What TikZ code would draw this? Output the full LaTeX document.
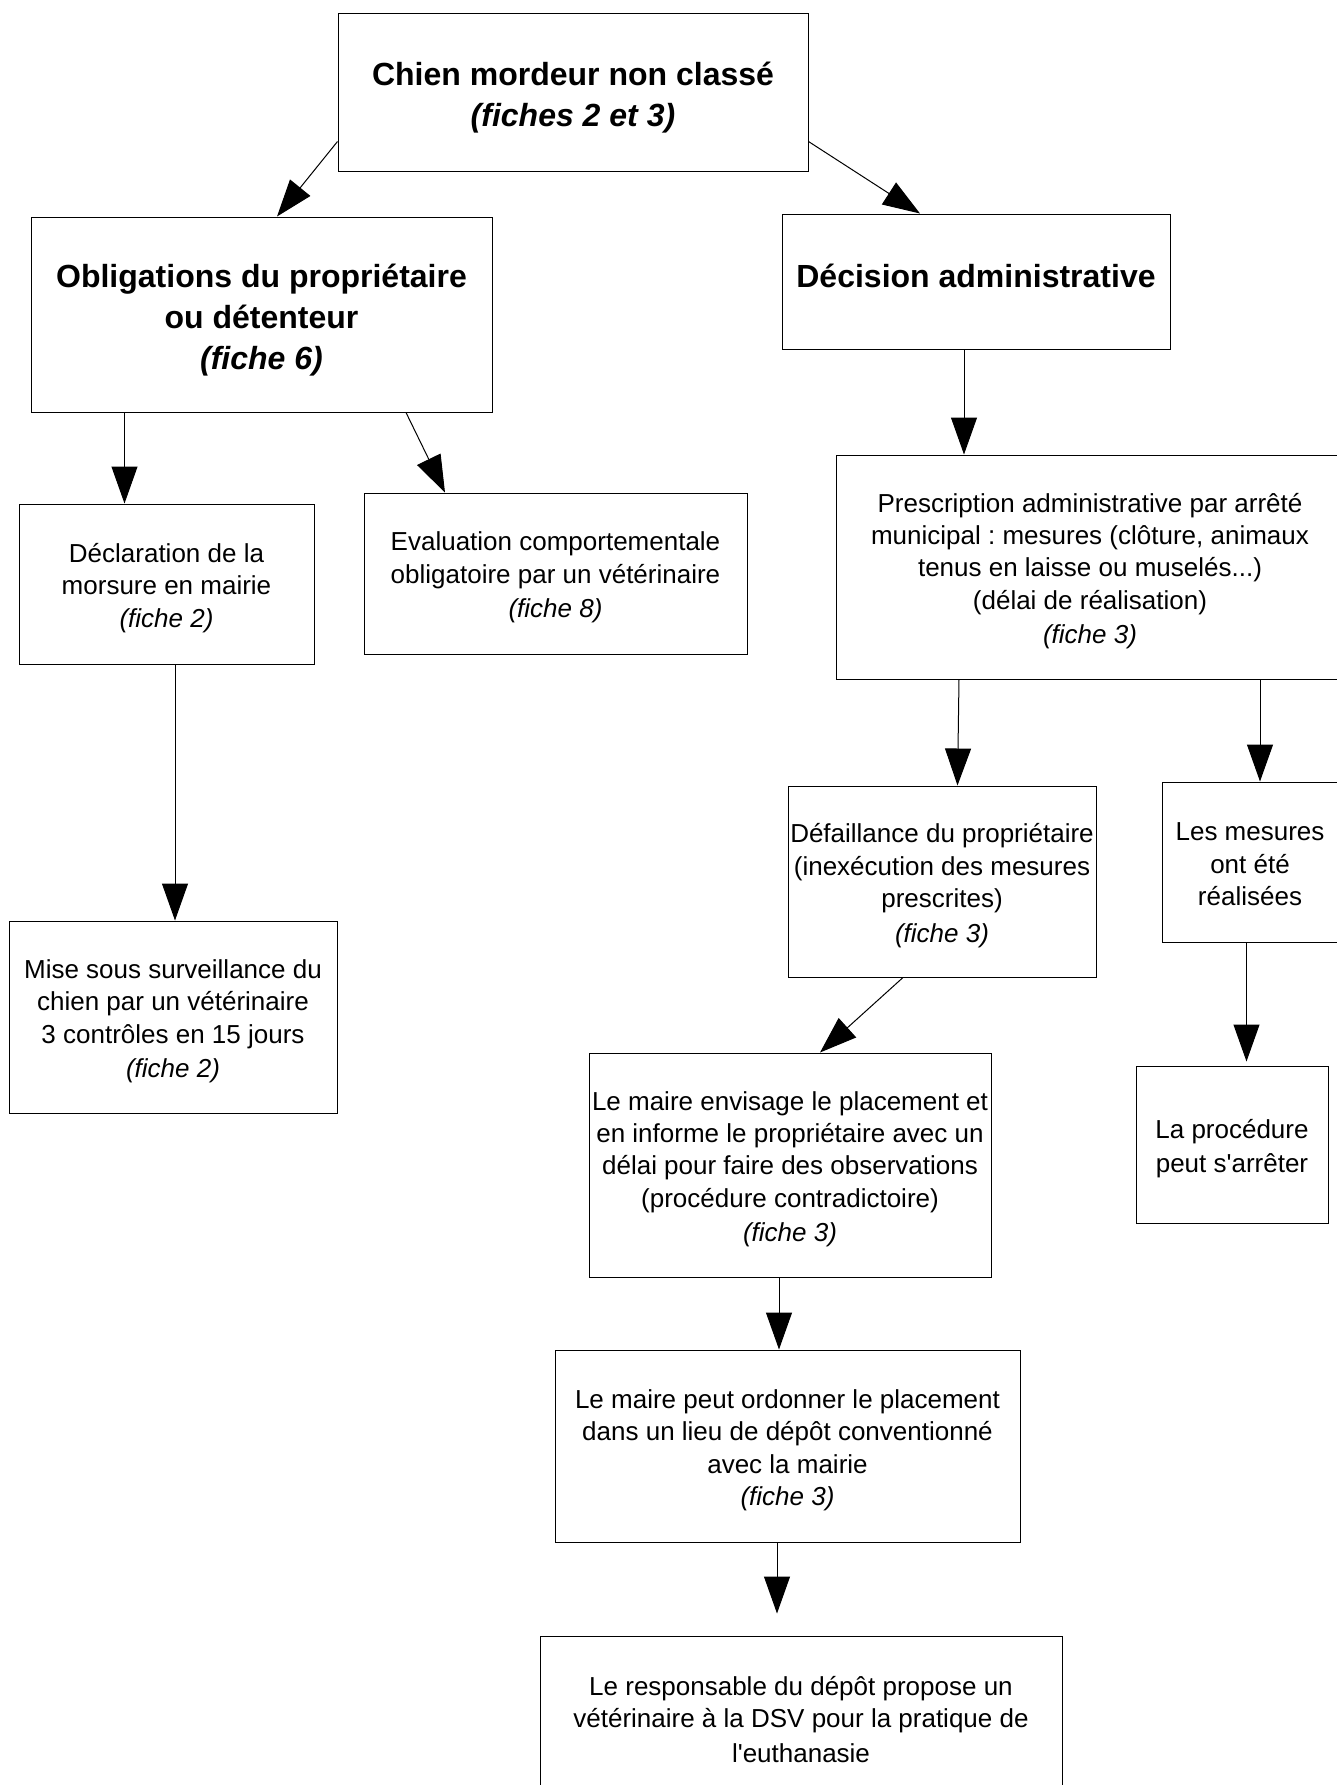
\documentclass[tikz,border=0pt]{standalone}
\usepackage{fontspec}
\setmainfont{Liberation Sans}
\usetikzlibrary{arrows.meta,calc}
\frenchspacing
% strut for first and last line of a box
\newcommand{\ls}{\rule[-0.16\baselineskip]{0pt}{\baselineskip}}
\tikzset{
  box/.style={draw=black, line width=0.5pt, inner sep=0pt, align=center,
    font=\fontsize{13}{16.2}\selectfont},
  titlebox/.style={box, font=\bfseries\fontsize{16}{20.4}\selectfont},
  arr/.style={line width=0.5pt, -{Triangle[length=18.5pt,width=13pt]}}
}
\begin{document}
\begin{tikzpicture}[x=0.5pt,y=-0.5pt]
	\useasboundingbox[fill=white] (0,0) rectangle (1337,1785);
	% top level
	\node[titlebox, minimum width=235pt, minimum height=79pt] (mordeur) at (573,92)
	     {\ls Chien mordeur non classé\\ \textit{(fiches 2 et 3)}\ls};
	\node[titlebox, minimum width=230.5pt, minimum height=97.5pt] (oblig) at (261.5,314.5)
	     {\ls Obligations du propriétaire\\ ou détenteur\\ \textit{(fiche 6)}\ls};
	\node[titlebox, minimum width=194pt, minimum height=67.5pt] (decision) at (976,281.5)
	     {Décision administrative\rule[-6pt]{0pt}{0pt}};
	% left branch
	\node[box, minimum width=147.5pt, minimum height=80pt] (declaration) at (166.5,584)
	     {\ls Déclaration de la\\ morsure en mairie\\ \textit{(fiche 2)}\ls};
	\node[box, minimum width=191.5pt, minimum height=80.5pt] (evaluation) at (555.5,573.5)
	     {\ls Evaluation comportementale\\ obligatoire par un vétérinaire\\ \textit{(fiche 8)}\ls};
	\node[box, minimum width=164pt, minimum height=96pt] (surveillance) at (173,1017)
	     {\ls Mise sous surveillance du\\ chien par un vétérinaire\\ 3 contrôles en 15 jours\\ \textit{(fiche 2)}\ls};
	% right branch
	\node[box, minimum width=254pt, minimum height=112pt] (prescription) at (1090,567)
	     {\ls Prescription administrative par arrêté\\ municipal : mesures (clôture, animaux\\
	      tenus en laisse ou muselés...)\\ (délai de réalisation)\\ \textit{(fiche 3)}\ls};
	\node[box, minimum width=154pt, minimum height=95.5pt] (defaillance) at (942,881.5)
	     {\ls Défaillance du propriétaire\\ (inexécution des mesures\\ prescrites)\\ \textit{(fiche 3)}\ls};
	\node[box, minimum width=88pt, minimum height=80pt] (realisees) at (1250,862)
	     {\ls Les mesures\\ ont été\\ réalisées\ls};
	\node[box, minimum width=96pt, minimum height=78.5pt] (arret) at (1232,1144.5)
	     {\ls La procédure\\ peut s\textquotesingle arrêter\ls};
	\node[box, minimum width=201pt, minimum height=112pt] (envisage) at (790,1165)
	     {\ls Le maire envisage le placement et\\ en informe le propriétaire avec un\\
	      délai pour faire des observations\\ (procédure contradictoire)\\ \textit{(fiche 3)}\ls};
	\node[box, minimum width=232.5pt, minimum height=96pt] (placement) at (787.5,1446)
	     {\ls Le maire peut ordonner le placement\\ dans un lieu de dépôt conventionné\\
	      avec la mairie\\ \textit{(fiche 3)}\ls};
	\node[box, minimum width=261pt, minimum height=82pt] (euthanasie) at (801,1718)
	     {\ls Le responsable du dépôt propose un\\ vétérinaire à la DSV pour la pratique de\\ l\textquotesingle euthanasie\ls};
	\coordinate (euthtop) at ($(euthanasie.north)+(-24,-22)$);
	% arrows
	\draw[arr] ($(mordeur.south west)+(0,-30)$) -- ($(oblig.north)+(15.5,0)$);
	\draw[arr] ($(mordeur.south east)+(0,-30)$) -- ($(decision.north)+(-56,0)$);
	\draw[arr] ($(oblig.south)+(-137,0)$) -- ($(declaration.north)+(-42,0)$);
	\draw[arr] ($(oblig.south)+(144.5,0)$) -- ($(evaluation.north)+(-110.5,0)$);
	\draw[arr] ($(declaration.south)+(8.5,0)$) -- ($(surveillance.north)+(2,0)$);
	\draw[arr] ($(decision.south)+(-12,0)$) -- ($(prescription.north)+(-126,0)$);
	\draw[arr] ($(prescription.south)+(-131,0)$) -- ($(defaillance.north)+(15.5,0)$);
	\draw[arr] ($(prescription.south)+(170,0)$) -- ($(realisees.north)+(10,0)$);
	\draw[arr] ($(realisees.south)+(-3.5,0)$) -- ($(arret.north)+(14.5,-4)$);
	\draw[arr] ($(defaillance.south)+(-39,0)$) -- ($(envisage.north)+(30,0)$);
	\draw[arr] ($(envisage.south)+(-11,0)$) -- ($(placement.north)+(-8.5,0)$);
	\draw[arr] ($(placement.south)+(-10.5,0)$) -- (euthtop);
\end{tikzpicture}
\end{document}
